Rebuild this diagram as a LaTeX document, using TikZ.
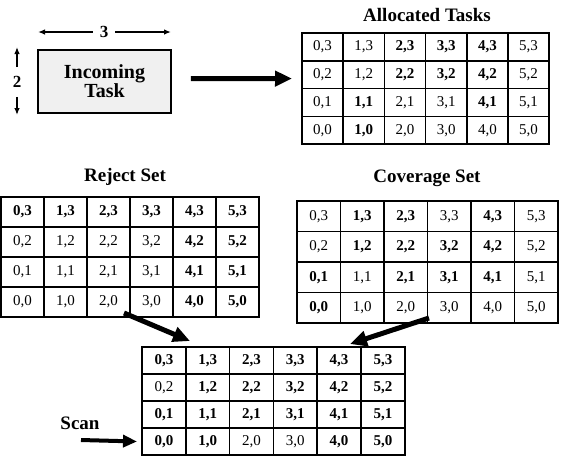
\documentclass[tikz,border=0pt]{standalone}
\usepackage{fontspec}
\setmainfont{Liberation Serif}
\usetikzlibrary{arrows.meta,calc}
\newcommand{\cellrm}{\fontsize{15}{15}\selectfont}
\newcommand{\cellbf}{\fontsize{15}{15}\selectfont\bfseries}
\tikzset{
  gridbox/.style={draw, line width=2pt, inner sep=0pt, outer sep=0pt, anchor=north west},
  gridline/.style={line width=1.5pt},
  cell/.style={inner sep=0pt},
  wt/.code={\if#1b\pgfkeysalso{font=\cellbf}\else\pgfkeysalso{font=\cellrm}\fi},
  title/.style={font=\fontsize{19}{19}\selectfont\bfseries},
  taskbox/.style={draw, line width=1.6pt, fill=gray!12, align=center, inner sep=0pt,
    font=\fontsize{20}{19}\selectfont\bfseries},
  dimlabel/.style={font=\fontsize{17}{17}\selectfont\bfseries, inner sep=1pt},
  dimarrow/.style={line width=1.3pt, -{Latex[length=7pt,width=5.5pt]}},
  bigarrow/.style={line width=5pt, -{Triangle[length=17pt,width=15pt]}},
  scanarrow/.style={line width=4pt, -{Triangle[length=14pt,width=12pt]}}
}
% name, x0, y0, cell width, cell height, list i/j/weight
\newcommand{\tgrid}[6]{%
  \node[gridbox, minimum width={6*#4}, minimum height={4*#5}] (#1) at (#2,#3) {};
  \foreach \k in {1,...,5}
    \draw[gridline] ({#2+\k*#4},#3) -- ({#2+\k*#4},{#3+4*#5});
  \foreach \k in {1,2,3}
    \draw[gridline] (#2,{#3+\k*#5}) -- ({#2+6*#4},{#3+\k*#5});
  \foreach \i/\j/\ff in {#6}
    \node[cell, wt=\ff] (#1-\i-\j) at ({#2+(\i+0.5)*#4},{#3+(3.5-\j)*#5}) {\i,\j};
}
\begin{document}
\begin{tikzpicture}[x=1pt,y=-1pt]
\useasboundingbox[fill=white] (0,0) rectangle (564,459);

% incoming task
\node[taskbox, minimum width=133pt, minimum height=63pt] (task) at (104.5,81.5) {Incoming\\Task};
\node[dimlabel] (w) at (104,32) {3};
\coordinate (wl) at (38,32);
\coordinate (wr) at (171,32);
\draw[dimarrow] (w.west) ++(-6pt,0) -- (wl);
\draw[dimarrow] (w.east) ++(6pt,0) -- (wr);
\node[dimlabel] (h) at (17,82) {2};
\coordinate (ht) at (17,47);
\coordinate (hb) at (17,115);
\draw[dimarrow] (h.north) ++(0,8pt) -- (ht);
\draw[dimarrow] (h.south) ++(0,-8pt) -- (hb);

% allocated tasks
\node[title] (tA) at (427,15) {Allocated Tasks};
\tgrid{A}{302}{33}{41.2}{27.8}{0/3/n,1/3/n,2/3/b,3/3/b,4/3/b,5/3/n,
  0/2/n,1/2/n,2/2/b,3/2/b,4/2/b,5/2/n,
  0/1/n,1/1/b,2/1/n,3/1/n,4/1/b,5/1/n,
  0/0/n,1/0/b,2/0/n,3/0/n,4/0/n,5/0/n}
\draw[bigarrow] ([xshift=19pt,yshift=3pt]task.east) -- ([xshift=-10pt,yshift=10pt]A.west);

% reject set
\node[title] (tR) at (125,177) {Reject Set};
\tgrid{R}{1}{197}{43}{30}{0/3/b,1/3/b,2/3/b,3/3/b,4/3/b,5/3/b,
  0/2/n,1/2/n,2/2/n,3/2/n,4/2/b,5/2/b,
  0/1/n,1/1/n,2/1/n,3/1/n,4/1/b,5/1/b,
  0/0/n,1/0/n,2/0/n,3/0/n,4/0/b,5/0/b}

% coverage set
\node[title] (tC) at (427,178) {Coverage Set};
\tgrid{C}{297}{201}{43.5}{30.5}{0/3/n,1/3/b,2/3/b,3/3/n,4/3/b,5/3/n,
  0/2/n,1/2/b,2/2/b,3/2/b,4/2/b,5/2/n,
  0/1/b,1/1/n,2/1/b,3/1/b,4/1/b,5/1/n,
  0/0/b,1/0/n,2/0/n,3/0/n,4/0/n,5/0/n}

% result
\tgrid{S}{142}{347}{43.8}{27}{0/3/b,1/3/b,2/3/b,3/3/b,4/3/b,5/3/b,
  0/2/n,1/2/b,2/2/b,3/2/b,4/2/b,5/2/b,
  0/1/b,1/1/b,2/1/b,3/1/b,4/1/b,5/1/b,
  0/0/b,1/0/b,2/0/n,3/0/n,4/0/b,5/0/b}

\coordinate (r1) at (124,313);
\coordinate (r2) at (190,341);
\draw[bigarrow] (r1) -- (r2);
\coordinate (c1) at (429,318);
\coordinate (c2) at (350,344);
\draw[bigarrow] (c1) -- (c2);

\node[title] (scan) at (80,423) {Scan};
\coordinate (s1) at (81,440);
\draw[scanarrow] (s1) -- ([xshift=-5pt]S-0-0.west -| S.west);
\end{tikzpicture}
\end{document}
